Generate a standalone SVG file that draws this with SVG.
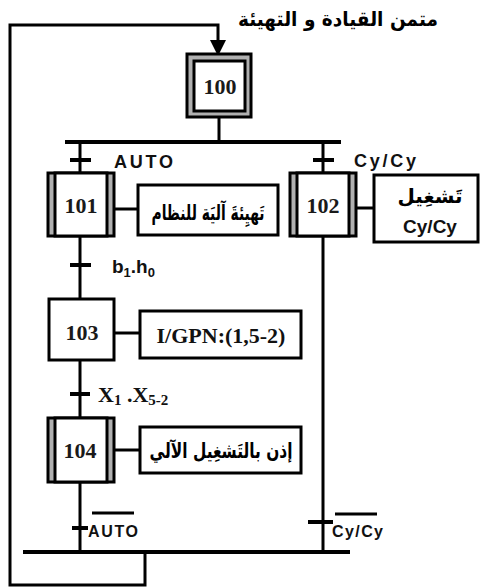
<svg xmlns="http://www.w3.org/2000/svg" width="481" height="588" viewBox="0 0 481 588">
<style>
.ln{stroke:#000;stroke-width:3;fill:none}
.tk{stroke:#000;stroke-width:4;fill:none}
.box{fill:#fff;stroke:#000;stroke-width:3}
.band{fill:#b0b0b0;stroke:#000;stroke-width:3}
.num{font-family:"Liberation Serif",serif;font-size:22px;font-weight:bold;fill:#1a1a1a;text-anchor:middle}
.ar{font-family:"DejaVu Sans",sans-serif;font-weight:bold;fill:#000;text-anchor:middle}
.lb{font-family:"Liberation Sans",sans-serif;font-weight:bold;fill:#111}
</style>
<rect width="481" height="588" fill="#fff"/>
<g id="connectors">
  <polyline class="ln" points="145,552 145,585 10,585 10,25 218,25 218,42"/>
  <polygon points="210,40 226,40 218,56" fill="#000"/>
  <line class="ln" x1="219" y1="117" x2="219" y2="142"/>
  <line class="tk" x1="65" y1="142" x2="341" y2="142"/>
  <line class="ln" x1="80" y1="142" x2="80" y2="173"/>
  <line class="tk" x1="70" y1="160" x2="91" y2="160"/>
  <line class="ln" x1="323" y1="142" x2="323" y2="173"/>
  <line class="tk" x1="313" y1="160" x2="334" y2="160"/>
  <line class="ln" x1="80" y1="236" x2="80" y2="299"/>
  <line class="tk" x1="70" y1="265" x2="91" y2="265"/>
  <line class="ln" x1="80" y1="360" x2="80" y2="418"/>
  <line class="tk" x1="70" y1="394" x2="90" y2="394"/>
  <line class="ln" x1="80" y1="482" x2="80" y2="552"/>
  <line class="tk" x1="72" y1="528" x2="88" y2="528"/>
  <line class="ln" x1="323" y1="236" x2="323" y2="552"/>
  <line class="tk" x1="308" y1="522" x2="333" y2="522"/>
  <line class="tk" x1="23" y1="552" x2="350" y2="552"/>
  <line class="ln" x1="114" y1="209" x2="138" y2="209"/>
  <line class="ln" x1="356" y1="208" x2="374" y2="208"/>
  <line class="ln" x1="114" y1="333" x2="140" y2="333"/>
  <line class="ln" x1="114" y1="450" x2="140" y2="450"/>
</g>
<g id="labels">
  <text class="lb" x="114" y="168" font-size="18" textLength="59" lengthAdjust="spacing">AUTO</text>
  <text class="lb" x="354" y="167" font-size="18" textLength="62" lengthAdjust="spacing">Cy/Cy</text>
  <text class="lb" x="112" y="273" font-size="19">b<tspan font-size="13" dy="4">1</tspan><tspan dy="-4">.h</tspan><tspan font-size="13" dy="4">0</tspan></text>
  <text x="98" y="402" font-family="Liberation Serif,serif" font-weight="bold" font-size="22" fill="#111">X<tspan font-size="15" dy="3">1</tspan><tspan dy="-3"> .X</tspan><tspan font-size="15" dy="3">5-2</tspan></text>
  <text class="lb" x="88" y="537" font-size="16" textLength="50" lengthAdjust="spacing">AUTO</text>
  <line class="ln" x1="92" y1="513" x2="134" y2="513"/>
  <text class="lb" x="332" y="537" font-size="16" textLength="51" lengthAdjust="spacing">Cy/Cy</text>
  <line class="ln" x1="335" y1="514" x2="377" y2="514"/>
  <text class="ar" x="338" y="26" font-size="20" textLength="200" lengthAdjust="spacingAndGlyphs">متمن القيادة و التهيئة</text>
</g>
<g id="step100">
  <rect x="187" y="54" width="64" height="63" class="band" fill="#c8c8c8"/>
  <rect x="194" y="61" width="51" height="50" class="box"/>
  <text class="num" x="220" y="94">100</text>
</g>
<g id="step101">
  <rect x="48" y="173" width="66" height="63" class="band"/>
  <rect x="55" y="173" width="52" height="63" class="box"/>
  <text class="num" x="81" y="213">101</text>
</g>
<g id="action101">
  <rect x="138" y="185" width="140" height="50" class="box"/>
  <text class="ar" x="0" y="0" font-size="21" transform="translate(208,220) scale(0.66,1)">تَهيِئةَ آليَة للنظام</text>
</g>
<g id="step102">
  <rect x="290" y="173" width="66" height="63" class="band"/>
  <rect x="297" y="173" width="52" height="63" class="box"/>
  <text class="num" x="323" y="213" font-weight="normal" font-size="22">102</text>
</g>
<g id="action102">
  <rect x="374" y="175" width="104" height="67" class="box"/>
  <text class="ar" x="430" y="203" font-size="20">تَشغِيل</text>
  <text class="lb" x="430" y="233" font-size="19" text-anchor="middle">Cy/Cy</text>
</g>
<g id="step103">
  <rect x="49" y="299" width="65" height="61" class="box"/>
  <text class="num" x="82" y="340">103</text>
</g>
<g id="action103">
  <rect x="140" y="311" width="161" height="47" class="box"/>
  <text x="221" y="343" font-family="Liberation Serif,serif" font-weight="bold" font-size="22" text-anchor="middle" fill="#111">I/GPN:(1,5-2)</text>
</g>
<g id="step104">
  <rect x="48" y="418" width="66" height="64" class="band"/>
  <rect x="55" y="418" width="52" height="64" class="box"/>
  <text class="num" x="80" y="458">104</text>
</g>
<g id="action104">
  <rect x="140" y="427" width="161" height="46" class="box"/>
  <text class="ar" x="221" y="458" font-size="21" textLength="143" lengthAdjust="spacingAndGlyphs">إذن بالتَشغِيل الآلي</text>
</g>
</svg>
